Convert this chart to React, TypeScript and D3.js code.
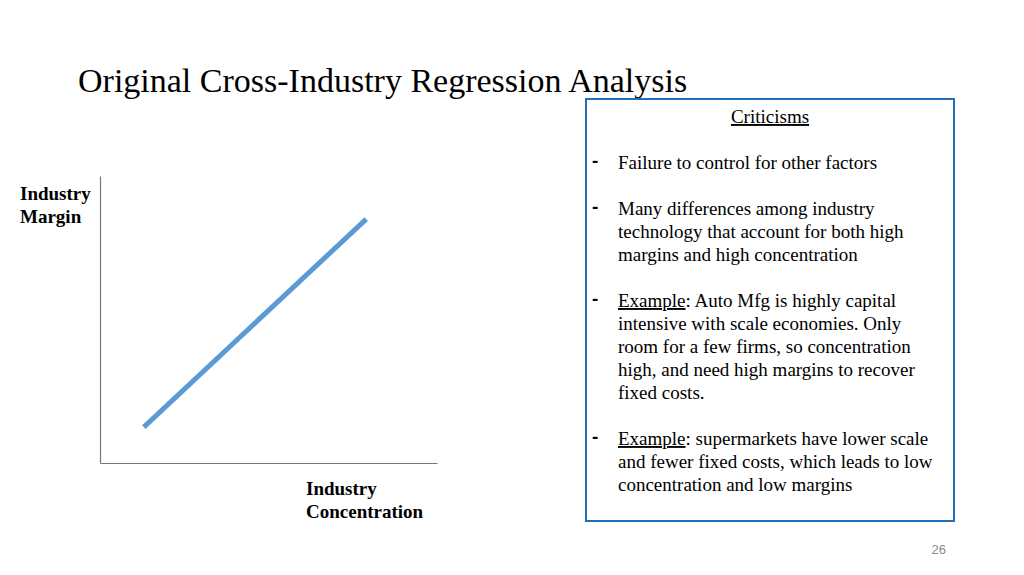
import { useEffect, useRef } from "react";
import * as d3 from "d3";

const WIDTH = 1024;
const HEIGHT = 575;

// plot area (pixel frame for the axes)
const PLOT = { LEFT: 100, RIGHT: 437, TOP: 176, BOTTOM: 463 };

// regression line end points, in axis units (0..10)
const concentration = [1.3, 7.9];
const margin = [1.25, 8.5];

const TITLE = "Original Cross-Industry Regression Analysis";
const yLabel = ["Industry", "Margin"];
const xLabel = ["Industry", "Concentration"];

// criticisms box: each bullet is a list of lines; "u" is underlined lead-in
const boxHeading = "Criticisms";
const bullets: { u?: string; lines: string[] }[] = [
  { lines: ["Failure to control for other factors"] },
  {
    lines: [
      "Many differences among industry",
      "technology that account for both high",
      "margins and high concentration",
    ],
  },
  {
    u: "Example",
    lines: [
      ": Auto Mfg is highly capital",
      "intensive with scale economies. Only",
      "room for a few firms, so concentration",
      "high, and need high margins to recover",
      "fixed costs.",
    ],
  },
  {
    u: "Example",
    lines: [
      ": supermarkets have lower scale",
      "and fewer fixed costs, which leads to low",
      "concentration and low margins",
    ],
  },
];

const pageNumber = "26";

const SERIF = "'Liberation Serif', 'Times New Roman', serif";

const App = () => {
  const svgRef = useRef<SVGSVGElement | null>(null);

  useEffect(() => {
    const svg = d3.select(svgRef.current);
    svg.selectAll("*").remove();

    // title
    svg
      .append("text")
      .attr("x", 78)
      .attr("y", 92)
      .style("font-family", SERIF)
      .style("font-size", "34px")
      .attr("fill", "#000")
      .text(TITLE);

    const xScale = d3.scaleLinear().domain([0, 10]).range([PLOT.LEFT, PLOT.RIGHT]);
    const yScale = d3.scaleLinear().domain([0, 10]).range([PLOT.BOTTOM, PLOT.TOP]);

    // axes without ticks
    const xAxis = d3.axisBottom(xScale).tickValues([]).tickSizeOuter(0);
    const yAxis = d3.axisLeft(yScale).tickValues([]).tickSizeOuter(0);
    svg
      .append("g")
      .attr("transform", `translate(0, ${PLOT.BOTTOM})`)
      .call(xAxis as any)
      .select(".domain")
      .attr("stroke", "#777")
      .attr("stroke-width", 1.2);
    svg
      .append("g")
      .attr("transform", `translate(${PLOT.LEFT}, 0)`)
      .call(yAxis as any)
      .select(".domain")
      .attr("stroke", "#777")
      .attr("stroke-width", 1.2);

    // regression line
    const pts = concentration.map((c, i) => [c, margin[i]] as [number, number]);
    const line = d3
      .line<[number, number]>()
      .x((d) => xScale(d[0]))
      .y((d) => yScale(d[1]));
    svg
      .append("path")
      .datum(pts)
      .attr("d", line)
      .attr("fill", "none")
      .attr("stroke", "#5b9bd5")
      .attr("stroke-width", 5);

    // axis labels
    const yl = svg
      .append("text")
      .style("font-family", SERIF)
      .style("font-size", "19px")
      .style("font-weight", "bold");
    yLabel.forEach((t, i) => {
      yl.append("tspan").attr("x", 20).attr("y", 200 + i * 23).text(t);
    });
    const xl = svg
      .append("text")
      .style("font-family", SERIF)
      .style("font-size", "19px")
      .style("font-weight", "bold");
    xLabel.forEach((t, i) => {
      xl.append("tspan").attr("x", 306).attr("y", 495 + i * 23).text(t);
    });

    // criticisms box
    svg
      .append("rect")
      .attr("x", 586)
      .attr("y", 99)
      .attr("width", 368)
      .attr("height", 422)
      .attr("fill", "#fff")
      .attr("stroke", "#1f6fc1")
      .attr("stroke-width", 2);

    svg
      .append("text")
      .attr("x", 770)
      .attr("y", 123)
      .attr("text-anchor", "middle")
      .style("font-family", SERIF)
      .style("font-size", "19px")
      .style("text-decoration", "underline")
      .text(boxHeading);

    const LH = 23;
    let y = 123 + 2 * LH;
    bullets.forEach((b) => {
      svg
        .append("text")
        .attr("x", 592)
        .attr("y", y - 2)
        .style("font-family", "'Liberation Sans', Arial, sans-serif")
        .style("font-size", "19px")
        .style("font-weight", "bold")
        .text("-");
      b.lines.forEach((ln, i) => {
        const t = svg
          .append("text")
          .attr("x", 618)
          .attr("y", y)
          .style("font-family", SERIF)
          .style("font-size", "19px");
        if (i === 0 && b.u) {
          t.append("tspan").style("text-decoration", "underline").text(b.u);
        }
        t.append("tspan").text(ln);
        y += LH;
      });
      y += LH;
    });

    // page number
    svg
      .append("text")
      .attr("x", 946)
      .attr("y", 554)
      .attr("text-anchor", "end")
      .style("font-family", "'Liberation Sans', Arial, sans-serif")
      .style("font-size", "13px")
      .attr("fill", "#8a8a8a")
      .text(pageNumber);
  }, []);

  return (
    <svg
      ref={svgRef}
      width={WIDTH}
      height={HEIGHT}
      style={{ position: "absolute", top: 0, left: 0, background: "#fff" }}
    />
  );
};

export default App;
